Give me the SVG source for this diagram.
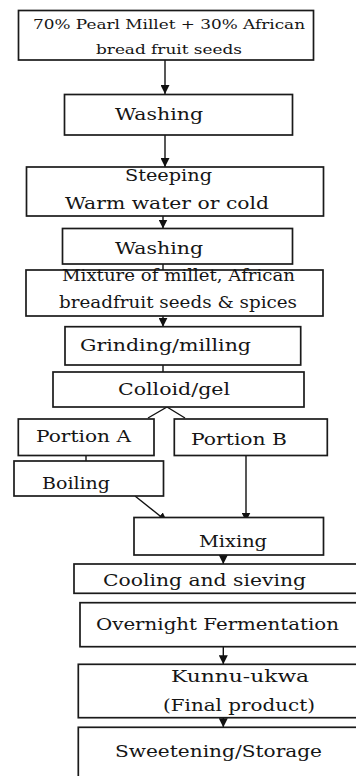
<svg xmlns="http://www.w3.org/2000/svg" width="356" height="776" viewBox="0 0 356 776">
<style>
.box{fill:#fff;stroke:#1a1a1a;stroke-width:1.7}
.t{font-family:"DejaVu Serif","Liberation Serif",serif;font-size:17px;fill:#151515}
.s{font-size:12.5px}
.c{stroke:#111;stroke-width:1.4;fill:none}
</style>
<defs>
<marker id="ah" markerUnits="userSpaceOnUse" markerWidth="10" markerHeight="9" refX="9" refY="4.5" orient="auto">
<path d="M0,0 L9,4.5 L0,9 z" fill="#111"/>
</marker>
</defs>
<rect width="356" height="776" fill="#fff"/>
<g id="connectors">
<line class="c" x1="165" y1="60" x2="165" y2="94" marker-end="url(#ah)"/>
<line class="c" x1="165" y1="135" x2="165" y2="167" marker-end="url(#ah)"/>
<line class="c" x1="163" y1="216" x2="163" y2="228.5" marker-end="url(#ah)"/>
<line class="c" x1="163" y1="264" x2="163" y2="270"/>
<line class="c" x1="163" y1="316" x2="163" y2="326.7" marker-end="url(#ah)"/>
<line class="c" x1="163" y1="365" x2="163" y2="372"/>
<polyline class="c" points="148,418 167,407 185,418"/>
<line class="c" x1="86" y1="455.5" x2="86" y2="461"/>
<line class="c" x1="135" y1="496" x2="167" y2="521.5" marker-end="url(#ah)"/>
<line class="c" x1="246" y1="449" x2="246" y2="521.5" marker-end="url(#ah)"/>
<line class="c" x1="223.3" y1="555" x2="223.3" y2="564" marker-end="url(#ah)"/>
<line class="c" x1="223.3" y1="646.7" x2="223.3" y2="664.3" marker-end="url(#ah)"/>
<line class="c" x1="223.3" y1="717.7" x2="223.3" y2="727.3" marker-end="url(#ah)"/>
</g>
<g id="n1">
<rect class="box" x="18.5" y="10.5" width="295" height="49.5"/>
<text class="t s" x="33" y="29" textLength="272" lengthAdjust="spacingAndGlyphs">70% Pearl Millet + 30% African</text>
<text class="t s" x="96" y="54" textLength="146" lengthAdjust="spacingAndGlyphs">bread fruit seeds</text>
</g>
<g id="n2">
<rect class="box" x="64.5" y="94.5" width="228" height="40.5"/>
<text class="t" x="115" y="119.5" textLength="88" lengthAdjust="spacingAndGlyphs">Washing</text>
</g>
<g id="n3">
<rect class="box" x="26.5" y="167" width="297" height="49"/>
<text class="t" x="125" y="180.5" textLength="87" lengthAdjust="spacingAndGlyphs">Steeping</text>
<text class="t" x="65" y="208.5" textLength="204" lengthAdjust="spacingAndGlyphs">Warm water or cold</text>
</g>
<g id="n4">
<rect class="box" x="62.5" y="228.5" width="230" height="35.5"/>
<text class="t" x="115" y="253.5" textLength="88" lengthAdjust="spacingAndGlyphs">Washing</text>
</g>
<g id="n5">
<rect class="box" x="26" y="270" width="297" height="46"/>
<text class="t" x="62" y="281" textLength="233" lengthAdjust="spacingAndGlyphs">Mixture of millet, African</text>
<text class="t" x="59" y="307.5" textLength="238" lengthAdjust="spacingAndGlyphs">breadfruit seeds &amp; spices</text>
</g>
<g id="n6">
<rect class="box" x="65" y="326.7" width="235.7" height="38.3"/>
<text class="t" x="80" y="350.5" textLength="171" lengthAdjust="spacingAndGlyphs">Grinding/milling</text>
</g>
<g id="n7">
<rect class="box" x="53" y="372" width="251" height="35"/>
<text class="t" x="118" y="394.5" textLength="112" lengthAdjust="spacingAndGlyphs">Colloid/gel</text>
</g>
<g id="n8">
<rect class="box" x="18.3" y="419" width="135.7" height="36.5"/>
<text class="t" x="36" y="441.5" textLength="95" lengthAdjust="spacingAndGlyphs">Portion A</text>
</g>
<g id="n9">
<rect class="box" x="174.3" y="419" width="153" height="36.5"/>
<text class="t" x="191" y="444.5" textLength="96" lengthAdjust="spacingAndGlyphs">Portion B</text>
</g>
<g id="n10">
<rect class="box" x="14" y="461" width="149.5" height="35"/>
<text class="t" x="42" y="488.5" textLength="68" lengthAdjust="spacingAndGlyphs">Boiling</text>
</g>
<g id="n11">
<rect class="box" x="134" y="517.5" width="189.5" height="37.5"/>
<text class="t" x="199" y="546.5" textLength="68" lengthAdjust="spacingAndGlyphs">Mixing</text>
</g>
<g id="n12">
<rect class="box" x="74" y="564" width="290" height="29.3"/>
<text class="t" x="103" y="585.5" textLength="203" lengthAdjust="spacingAndGlyphs">Cooling and sieving</text>
</g>
<g id="n13">
<rect class="box" x="80" y="602.7" width="285" height="44"/>
<text class="t" x="96" y="629.5" textLength="243" lengthAdjust="spacingAndGlyphs">Overnight Fermentation</text>
</g>
<g id="n14">
<rect class="box" x="78.3" y="664.3" width="290" height="53.4"/>
<text class="t" x="171" y="681.5" textLength="138" lengthAdjust="spacingAndGlyphs">Kunnu-ukwa</text>
<text class="t" x="163" y="711" textLength="152" lengthAdjust="spacingAndGlyphs">(Final product)</text>
</g>
<g id="n15">
<rect class="box" x="78.3" y="727.3" width="290" height="60"/>
<text class="t" x="115" y="757" textLength="207" lengthAdjust="spacingAndGlyphs">Sweetening/Storage</text>
</g>
</svg>
